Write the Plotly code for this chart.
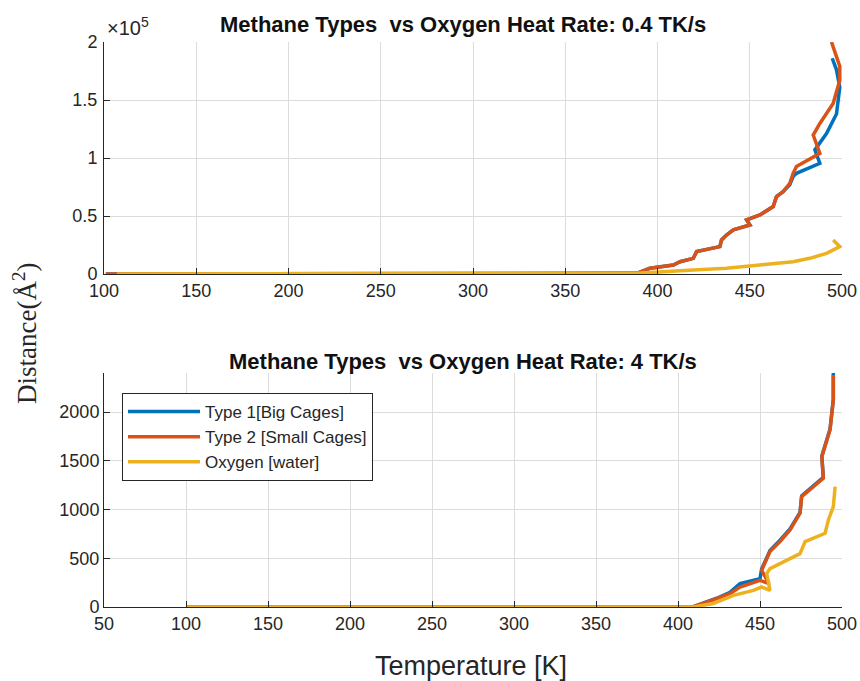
import plotly.graph_objects as go

# ---------------- data ----------------
# Top panel: heat rate 0.4 TK/s
top_t1_T = [101, 200, 300, 370, 388.7, 395.9, 408.6, 412.2, 419.4, 421.2, 433.8, 434.7, 437.4, 441.1,
            450.1, 448.3, 455.5, 462.7, 464.5, 468.1, 471.7, 473.5, 475.3, 488.0, 485.3, 491.6, 497.0,
            498.8, 497.0, 494.7]
top_t1_V = [0, 0, 0, 0, 600, 4900, 7800, 10600, 13500, 19300, 23600, 29300, 33600, 38000,
            42200, 46600, 50900, 58100, 66700, 71000, 77000, 84000, 86800, 95400, 107000, 121000, 138000,
            161000, 176000, 186000]

top_t2_T = [101, 200, 300, 370, 388.7, 395.9, 408.6, 412.2, 419.4, 421.2, 433.8, 434.7, 437.4, 441.1,
            450.1, 448.3, 455.5, 462.7, 464.5, 468.1, 471.7, 473.5, 475.3, 488.0, 486.2, 484.4, 488.0,
            495.2, 498.8, 498.8, 494.3]
top_t2_V = [0, 0, 0, 0, 600, 4900, 7800, 10600, 13500, 19300, 23600, 29300, 33600, 38000,
            42200, 46600, 50900, 58100, 66700, 71000, 78200, 86800, 92600, 104000, 112600, 119800, 129800,
            147000, 167000, 179000, 200000]

top_ox_T = [107, 200, 300, 370, 388.7, 419.4, 437.4, 455.5, 473.5, 482.5, 491.6, 498.8, 495.2]
top_ox_V = [0, 0, 0, 0, 600, 3400, 4900, 7800, 10600, 13500, 17800, 23600, 29300]

# Bottom panel: heat rate 4 TK/s
bot_t1_T = [100, 200, 300, 400, 409.4, 423.6, 431.7, 437.8, 450.0, 451.0, 456.1, 462.2, 468.3,
            474.4, 475.4, 488.6, 487.7, 492.7, 494.7, 494.7]
bot_t1_V = [0, 0, 0, 0, 3, 90, 150, 239, 291, 390, 580, 685, 800,
            970, 1140, 1330, 1550, 1825, 2130, 2400]

bot_t2_T = [100, 200, 300, 400, 409.4, 423.6, 431.7, 437.8, 450.0, 455.5, 451.0, 456.1, 462.2, 468.3,
            474.4, 475.4, 488.6, 487.7, 492.7, 494.7, 494.7]
bot_t2_V = [0, 0, 0, 0, 3, 86, 137, 205, 274, 240, 376, 568, 670, 790,
            961, 1132, 1320, 1542, 1816, 2125, 2380]

bot_ox_T = [100, 200, 300, 400, 409.4, 421.5, 433.8, 446.0, 451.0, 456.1, 454.1, 456.1, 474.4,
            477.5, 489.7, 491.7, 494.7, 495.8]
bot_ox_V = [0, 0, 0, 0, 0, 36, 120, 171, 205, 171, 342, 394, 547,
            670, 756, 893, 1030, 1234]

names = ["Type 1[Big Cages]", "Type 2 [Small Cages]", "Oxygen [water]"]
colors = ["#0072BD", "#D95319", "#EDB120"]

top_xticks = [100, 150, 200, 250, 300, 350, 400, 450, 500]
top_yticks = [0, 50000, 100000, 150000, 200000]
top_ytext = ["0", "0.5", "1", "1.5", "2"]
bot_xticks = [50, 100, 150, 200, 250, 300, 350, 400, 450, 500]
bot_yticks = [0, 500, 1000, 1500, 2000]

# ---------------- figure ----------------
W, H = 860, 681
fig = go.Figure()

lw = 3.5
top_series = [(top_t1_T, top_t1_V), (top_t2_T, top_t2_V), (top_ox_T, top_ox_V)]
bot_series = [(bot_t1_T, bot_t1_V), (bot_t2_T, bot_t2_V), (bot_ox_T, bot_ox_V)]
for (x, y), n, c in zip(top_series, names, colors):
    fig.add_trace(go.Scatter(x=x, y=y, mode="lines", name=n, line=dict(color=c, width=lw),
                             showlegend=False, xaxis="x", yaxis="y"))
for (x, y), n, c in zip(bot_series, names, colors):
    fig.add_trace(go.Scatter(x=x, y=y, mode="lines", name=n, line=dict(color=c, width=lw),
                             showlegend=True, xaxis="x2", yaxis="y2"))

font_family = "Liberation Sans, Arial, sans-serif"
tickfont = dict(family=font_family, size=18, color="#262626")
common = dict(showgrid=True, gridcolor="#DCDCDC", gridwidth=1, showline=True, linecolor="#262626",
              linewidth=1, ticks="inside", ticklen=6, tickcolor="#262626", tickfont=tickfont,
              zeroline=False, mirror=False, automargin=False)

def px_x(p):
    return p / W

def px_y(p):
    return 1 - p / H

fig.update_layout(
    width=W, height=H, margin=dict(l=0, r=0, t=0, b=0),
    paper_bgcolor="white", plot_bgcolor="white",
    xaxis=dict(domain=[px_x(104), px_x(842)], range=[100, 500], tickvals=top_xticks,
               anchor="y", **common),
    yaxis=dict(domain=[px_y(274), px_y(42)], range=[0, 200000], tickvals=top_yticks,
               ticktext=top_ytext, anchor="x", ticklabelstandoff=2, **common),
    xaxis2=dict(domain=[px_x(104), px_x(842)], range=[50, 500], tickvals=bot_xticks,
                anchor="y2", **common),
    yaxis2=dict(domain=[px_y(607), px_y(373)], range=[0, 2400], tickvals=bot_yticks,
                anchor="x2", **common),
    legend=dict(x=px_x(122), y=px_y(393), xanchor="left", yanchor="top",
                bgcolor="white", bordercolor="#262626", borderwidth=1,
                font=dict(family=font_family, size=17, color="#262626"),
                tracegroupgap=0, itemwidth=72),
    showlegend=True,
)

ann = [
    dict(text="<b>Methane Types  vs Oxygen Heat Rate: 0.4 TK/s</b>", x=px_x(463), y=px_y(24),
         font=dict(family=font_family, size=22, color="#111111")),
    dict(text="<b>Methane Types  vs Oxygen Heat Rate: 4 TK/s</b>", x=px_x(463), y=px_y(361),
         font=dict(family=font_family, size=22, color="#111111")),
    dict(text="×10<sup>5</sup>", x=px_x(128), y=px_y(27),
         font=dict(family=font_family, size=20, color="#262626")),
    dict(text="Temperature [K]", x=px_x(471), y=px_y(666),
         font=dict(family=font_family, size=27, color="#262626")),
    dict(text="Distance(Å<sup>2</sup>)", x=px_x(25), y=px_y(334), textangle=-90,
         font=dict(family="Liberation Serif, Times New Roman, serif", size=27, color="#262626")),
]
for a in ann:
    fig.add_annotation(xref="paper", yref="paper", showarrow=False, xanchor="center",
                       yanchor="middle", **a)

fig.write_html("out.html")
